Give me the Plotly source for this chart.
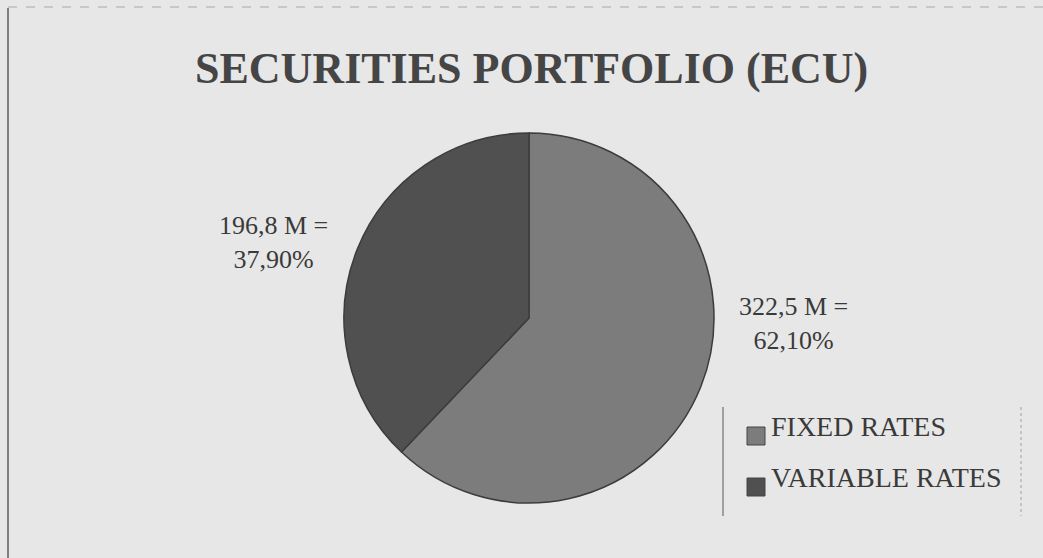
import plotly.graph_objects as go

# Portfolio split, in millions of ECU
categories = ["FIXED RATES", "VARIABLE RATES"]
amounts = [322.5, 196.8]
slice_colors = ["#7c7c7c", "#505050"]

title_text = "SECURITIES PORTFOLIO (ECU)"

W, H = 1043, 558
total = sum(amounts)


def px_x(x):
    return x / W


def px_y(y):
    return 1 - y / H


def label_for(value):
    pct = value / total * 100
    amount = f"{value:.1f}".replace(".", ",")
    share = f"{pct:.2f}".replace(".", ",")
    return f"{amount} M =<br>{share}%"


# Pie: centre (529, 318), radius 185 px
cx, cy, r = 529, 318, 185
fig = go.Figure(
    go.Pie(
        labels=categories,
        values=amounts,
        sort=False,
        direction="clockwise",
        rotation=0,
        marker=dict(colors=slice_colors, line=dict(color="#3c3c3c", width=1.5)),
        textinfo="none",
        hoverinfo="label+value+percent",
        domain=dict(
            x=[px_x(cx - r), px_x(cx + r)],
            y=[px_y(cy + r), px_y(cy - r)],
        ),
        showlegend=False,
    )
)

serif = "Liberation Serif, Times New Roman, serif"
text_color = "#3a3a3a"

annotations = [
    dict(
        text=f"<b>{title_text}</b>",
        x=px_x(531), y=px_y(68), xref="paper", yref="paper",
        xanchor="center", yanchor="middle", showarrow=False,
        font=dict(family=serif, size=44, color="#454545"),
    ),
    # value labels beside each slice
    dict(
        text=label_for(amounts[1]),
        x=px_x(273), y=px_y(242), xref="paper", yref="paper",
        xanchor="center", yanchor="middle", showarrow=False,
        font=dict(family=serif, size=26, color=text_color),
    ),
    dict(
        text=label_for(amounts[0]),
        x=px_x(793), y=px_y(323), xref="paper", yref="paper",
        xanchor="center", yanchor="middle", showarrow=False,
        font=dict(family=serif, size=26, color=text_color),
    ),
]

shapes = [
    # page frame
    dict(type="line", xref="paper", yref="paper",
         x0=px_x(8), x1=px_x(8), y0=px_y(8), y1=0,
         line=dict(color="#5e5e5e", width=1.5)),
    dict(type="line", xref="paper", yref="paper",
         x0=px_x(8), x1=1, y0=px_y(7), y1=px_y(7),
         line=dict(color="#a8a8a8", width=1, dash="dash")),
    # legend box sides
    dict(type="line", xref="paper", yref="paper",
         x0=px_x(723), x1=px_x(723), y0=px_y(407), y1=px_y(516),
         line=dict(color="#707070", width=1.2)),
    dict(type="line", xref="paper", yref="paper",
         x0=px_x(1021), x1=px_x(1021), y0=px_y(407), y1=px_y(516),
         line=dict(color="#a0a0a0", width=1, dash="dot")),
]

# legend entries
legend_rows = [436, 487]
for name, color, yc in zip(categories, slice_colors, legend_rows):
    shapes.append(dict(
        type="rect", xref="paper", yref="paper",
        x0=px_x(747), x1=px_x(765), y0=px_y(yc + 9), y1=px_y(yc - 9),
        fillcolor=color, line=dict(color="#454545", width=1),
    ))
    annotations.append(dict(
        text=name, x=px_x(769), y=px_y(yc - 10), xref="paper", yref="paper",
        xanchor="left", yanchor="middle", showarrow=False,
        font=dict(family=serif, size=28, color=text_color),
    ))

fig.update_layout(
    width=W, height=H,
    margin=dict(l=0, r=0, t=0, b=0),
    paper_bgcolor="#e7e7e7",
    plot_bgcolor="#e7e7e7",
    annotations=annotations,
    shapes=shapes,
)

fig.write_html("out.html")
